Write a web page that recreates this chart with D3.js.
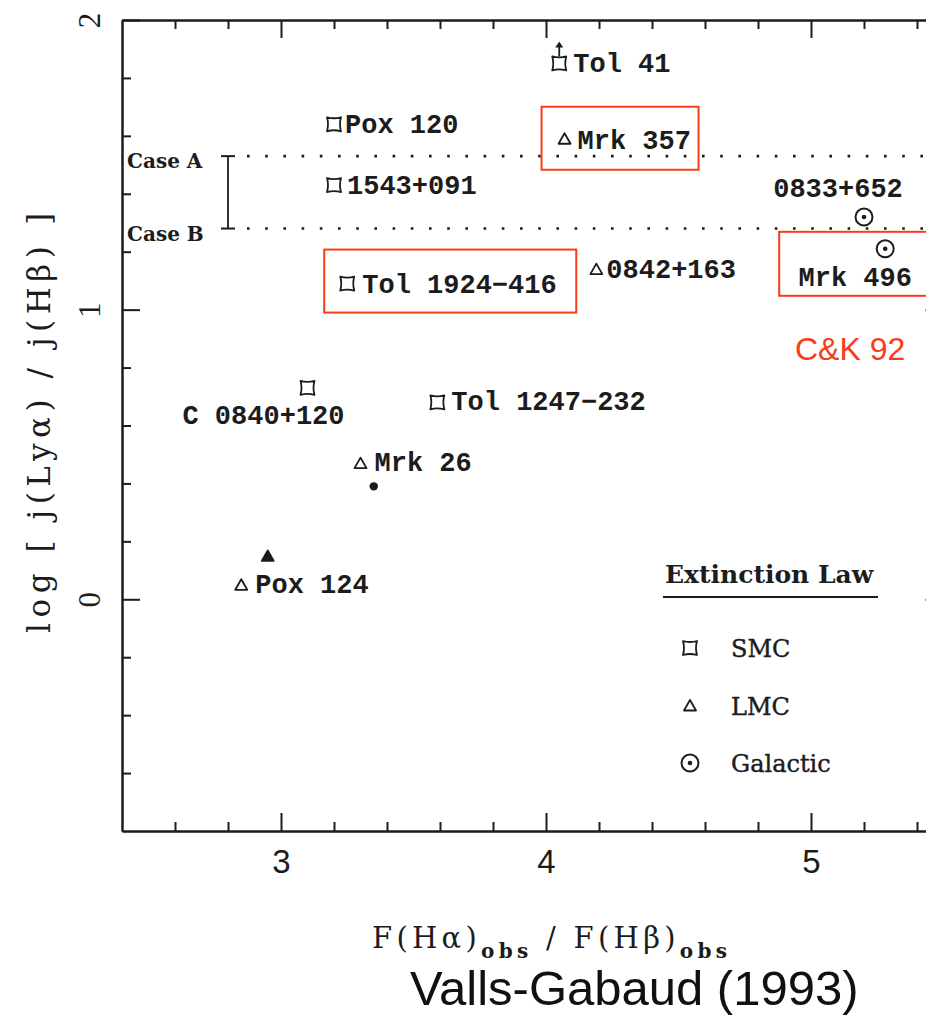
<!DOCTYPE html>
<html>
<head>
<meta charset="utf-8">
<script src="https://cdn.jsdelivr.net/npm/d3@7"></script>
<style>
    body { margin: 0; background: #fff; }
    .axis path, .axis line { stroke: #1c1c1c; stroke-width: 2; }
    .name_label { font-family: "Liberation Mono", monospace; font-weight: bold; font-size: 27px; fill: #1c1c1c; }
</style>
</head>
<body>
<script>
const names = ["Tol 41", "Pox 120", "Mrk 357", "1543+091", "0833+652", "Mrk 496",
    "Tol 1924\u2212416", "0842+163", "C 0840+120", "Tol 1247\u2212232", "Mrk 26", "Pox 124"];
const balmer_ratio = [4.05, 3.20, 4.07, 3.20, 5.20, 5.28, 3.25, 4.19, 3.10, 3.59, 3.30, 2.85];
const log_lya_hb = [1.85, 1.64, 1.59, 1.43, 1.32, 1.21, 1.09, 1.14, 0.73, 0.68, 0.47, 0.05];
const extinction_law = ["SMC", "SMC", "LMC", "SMC", "Galactic", "Galactic",
    "SMC", "LMC", "SMC", "SMC", "LMC", "LMC"];
const lower_limit = ["Tol 41"];
const boxed = ["Mrk 357", "Tol 1924\u2212416", "Mrk 496"];

// two unlabelled filled points
const filled_x = [3.35, 2.95];
const filled_y = [0.39, 0.15];
const filled_shape = ["dot", "triangle"];

const case_a = 1.53;
const case_b = 1.28;
const case_bar_x = 2.8;

const x_major = [3, 4, 5];
const y_major = [0, 1, 2];
const legend_items = ["SMC", "LMC", "Galactic"];

// label placement relative to each marker: dx, dy, anchor
const label_offsets = {
    "Tol 41": [14, 9, "start"],
    "Pox 120": [11, 9, "start"],
    "Mrk 357": [13, 10, "start"],
    "1543+091": [13, 9, "start"],
    "0833+652": [-26, -20, "middle"],
    "Mrk 496": [-30, 37, "middle"],
    "Tol 1924\u2212416": [15, 9, "start"],
    "0842+163": [10, 9, "start"],
    "C 0840+120": [37, 36, "end"],
    "Tol 1247\u2212232": [14, 8, "start"],
    "Mrk 26": [14, 8, "start"],
    "Pox 124": [14, 8, "start"]
};
// red boxes around labels: left, top, right, bottom offsets from marker
const box_offsets = {
    "Mrk 357": [-23, -32, 134, 31],
    "Tol 1924\u2212416": [-23, -34, 229, 29],
    "Mrk 496": [-106, -17, 70, 47]
};

const red = "#f83c16";

function symbol_path(kind) {
    if (kind == "SMC") {
        // square with slightly pinched sides
        return "M-7,-7 Q0,-5 7,-7 Q5,0 7,7 Q0,5 -7,7 Q-5,0 -7,-7 Z";
    }
    if (kind == "LMC" || kind == "triangle") {
        return "M0,-5.5 L6,5 L-6,5 Z";
    }
    return null;
}

class ExtinctionChart {
    constructor(name) {
        this.name = name;
        this.svg = null;
        this.g = null;
        this.total_width = 926;
        this.total_height = 1020;
        this.margin = { top: 20, right: -17.5, bottom: 189, left: 122 };
        this.graph_width = this.total_width - this.margin.left - this.margin.right;
        this.graph_height = this.total_height - this.margin.top - this.margin.bottom;
        this.x = d3.scaleLinear().domain([2.4, 5.5]).range([0, this.graph_width]);
        this.y = d3.scaleLinear().domain([-0.8, 2]).range([this.graph_height, 0]);
    }

    construct_svg(self = this) {
        self.svg = d3.select("body").append("svg")
            .attr("width", self.total_width)
            .attr("height", self.total_height)
            .attr("id", self.name);
        self.g = self.svg.append("g")
            .attr("transform", "translate(" + self.margin.left + "," + self.margin.top + ")");
    }

    draw_marker(sel, kind, filled) {
        const p = symbol_path(kind);
        if (p) {
            sel.append("path").attr("d", p)
                .attr("fill", filled ? "#1c1c1c" : "none")
                .attr("stroke", "#1c1c1c").attr("stroke-width", 1.8)
                .attr("stroke-linejoin", "round");
        } else if (kind == "Galactic") {
            sel.append("circle").attr("r", 8.5).attr("fill", "none")
                .attr("stroke", "#1c1c1c").attr("stroke-width", 2);
            sel.append("circle").attr("r", 2.3).attr("fill", "#1c1c1c");
        } else {
            sel.append("circle").attr("r", 4.2).attr("fill", "#1c1c1c");
        }
    }

    construct_axes(self = this) {
        const x = self.x, y = self.y;
        const x_minor = d3.range(2.6, 5.45, 0.2).filter(v => Math.abs(v - Math.round(v)) > 0.01);
        const y_minor = d3.range(-0.6, 1.95, 0.2).filter(v => Math.abs(v - Math.round(v)) > 0.01);

        const add = function (axis, transform) {
            const a = self.g.append("g").attr("class", "axis")
                .attr("transform", transform).call(axis);
            return a;
        };
        const bottom = "translate(0," + self.graph_height + ")";
        const right = "translate(" + self.graph_width + ",0)";

        add(d3.axisBottom(x).tickValues(x_minor).tickSize(-9).tickSizeOuter(0).tickFormat(""), bottom);
        add(d3.axisTop(x).tickValues(x_minor).tickSize(-9).tickSizeOuter(0).tickFormat(""), null);
        add(d3.axisLeft(y).tickValues(y_minor).tickSize(-9).tickSizeOuter(0).tickFormat(""), null);
        add(d3.axisRight(y).tickValues(y_minor).tickSize(-9).tickSizeOuter(0).tickFormat(""), right);
        add(d3.axisTop(x).tickValues(x_major).tickSize(-18).tickSizeOuter(0).tickFormat(""), null);
        add(d3.axisRight(y).tickValues(y_major).tickSize(-18).tickSizeOuter(0).tickFormat(""), right);

        const xb = add(d3.axisBottom(x).tickValues(x_major).tickSize(-18).tickSizeOuter(0)
            .tickPadding(19).tickFormat(d3.format("d")), bottom);
        xb.selectAll("text")
            .attr("font-family", "Liberation Sans, Arial, sans-serif")
            .attr("font-size", 33).attr("fill", "#1c1c1c");

        const yl = add(d3.axisLeft(y).tickValues(y_major).tickSize(-18).tickSizeOuter(0)
            .tickFormat(d3.format("d")), null);
        yl.selectAll("text")
            .attr("transform", "rotate(-90)")
            .attr("x", 0).attr("y", -22).attr("dy", 0)
            .attr("text-anchor", "middle")
            .attr("font-family", "Liberation Serif, serif")
            .attr("font-size", 31).attr("fill", "#1c1c1c");
        self.g.selectAll(".axis text").attr("stroke", "none");
    }

    construct_cases(self = this) {
        const x = self.x, y = self.y;
        const bx = x(case_bar_x);
        [case_a, case_b].forEach(function (v) {
            self.g.append("line")
                .attr("x1", bx + 19).attr("x2", self.graph_width)
                .attr("y1", y(v)).attr("y2", y(v))
                .attr("stroke", "#1c1c1c").attr("stroke-width", 2.6)
                .attr("stroke-dasharray", "2.6 15.6");
            self.g.append("line")
                .attr("x1", bx - 7).attr("x2", bx + 7)
                .attr("y1", y(v)).attr("y2", y(v))
                .attr("stroke", "#1c1c1c").attr("stroke-width", 2);
        });
        self.g.append("line")
            .attr("x1", bx).attr("x2", bx)
            .attr("y1", y(case_a)).attr("y2", y(case_b))
            .attr("stroke", "#1c1c1c").attr("stroke-width", 1.8);
        [["Case A", case_a], ["Case B", case_b]].forEach(function (c) {
            self.g.append("text")
                .attr("x", 5).attr("y", y(c[1]) + 12)
                .attr("font-family", "DejaVu Serif, serif")
                .attr("font-weight", "bold").attr("font-size", 20)
                .attr("fill", "#1c1c1c")
                .text(c[0]);
        });
    }

    construct_points(self = this) {
        const x = self.x, y = self.y;
        names.forEach(function (name, i) {
            const px = x(balmer_ratio[i]), py = y(log_lya_hb[i]);
            const m = self.g.append("g").attr("transform", "translate(" + px + "," + py + ")");
            self.draw_marker(m, extinction_law[i], false);
            if (lower_limit.includes(name)) {
                m.append("line").attr("x1", 0).attr("x2", 0).attr("y1", -7).attr("y2", -19)
                    .attr("stroke", "#1c1c1c").attr("stroke-width", 1.8);
                m.append("path").attr("d", "M-4,-16 L0,-22 L4,-16 Z").attr("fill", "#1c1c1c");
            }
            const off = label_offsets[name];
            self.g.append("text").attr("class", "name_label")
                .attr("x", px + off[0]).attr("y", py + off[1])
                .attr("text-anchor", off[2])
                .text(name);
            if (boxed.includes(name)) {
                const b = box_offsets[name];
                self.g.append("rect")
                    .attr("x", px + b[0]).attr("y", py + b[1])
                    .attr("width", b[2] - b[0]).attr("height", b[3] - b[1])
                    .attr("fill", "none").attr("stroke", red).attr("stroke-width", 2);
            }
        });
        filled_x.forEach(function (v, i) {
            const m = self.g.append("g")
                .attr("transform", "translate(" + x(v) + "," + y(filled_y[i]) + ")");
            self.draw_marker(m, filled_shape[i], true);
        });
    }

    construct_legend(self = this) {
        const lg = self.svg.append("g").attr("transform", "translate(663,0)");
        lg.append("text").attr("x", 2).attr("y", 583)
            .attr("font-family", "DejaVu Serif, serif").attr("font-weight", "bold")
            .attr("font-size", 25).attr("fill", "#1c1c1c")
            .text("Extinction Law");
        lg.append("line").attr("x1", 0).attr("x2", 215).attr("y1", 597).attr("y2", 597)
            .attr("stroke", "#1c1c1c").attr("stroke-width", 2);
        legend_items.forEach(function (item, i) {
            const row = lg.append("g").attr("transform", "translate(27," + (648 + i * 57.5) + ")");
            self.draw_marker(row, item, false);
            row.append("text").attr("x", 41).attr("y", 9)
                .attr("font-family", "DejaVu Serif, serif")
                .attr("font-size", 24).attr("fill", "#1c1c1c")
                .attr("stroke", "#1c1c1c").attr("stroke-width", 0.4)
                .text(item);
        });
    }

    construct_titles(self = this) {
        self.svg.append("text")
            .attr("transform", "translate(50,423) rotate(-90)")
            .attr("text-anchor", "middle")
            .attr("font-family", "DejaVu Serif, serif").attr("font-size", 31)
            .attr("fill", "#1c1c1c")
            .attr("textLength", 420).attr("lengthAdjust", "spacing")
            .text("log  [ j(Ly\u03b1) / j(H\u03b2) ]");

        const xt = self.svg.append("text")
            .attr("x", 372).attr("y", 948)
            .attr("font-family", "DejaVu Serif, serif").attr("font-size", 29)
            .attr("fill", "#1c1c1c")
            .attr("textLength", 355).attr("lengthAdjust", "spacing");
        xt.append("tspan").text("F(H\u03b1)");
        xt.append("tspan").attr("font-size", 20).attr("font-weight", "bold").attr("dy", 10).text("obs");
        xt.append("tspan").attr("dy", -10).text("  /  F(H\u03b2)");
        xt.append("tspan").attr("font-size", 20).attr("font-weight", "bold").attr("dy", 10).text("obs");

        self.svg.append("text")
            .attr("x", 795).attr("y", 360)
            .attr("font-family", "Liberation Sans, Arial, sans-serif")
            .attr("font-size", 32).attr("fill", red)
            .text("C&K 92");

        self.svg.append("text")
            .attr("x", 410).attr("y", 1005)
            .attr("font-family", "Liberation Sans, Arial, sans-serif")
            .attr("font-size", 49).attr("fill", "#111")
            .text("Valls-Gabaud (1993)");
    }
}

const chart = new ExtinctionChart("lya_hb");
chart.construct_svg();
chart.construct_axes();
chart.construct_cases();
chart.construct_points();
chart.construct_legend();
chart.construct_titles();
</script>
</body>
</html>
